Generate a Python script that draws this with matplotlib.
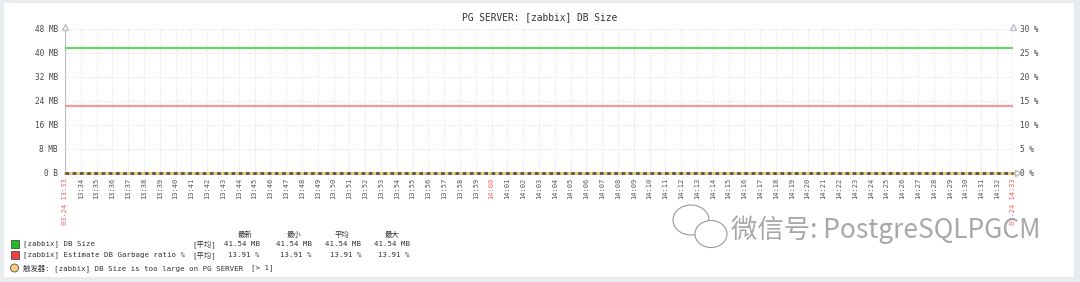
import numpy as np
import matplotlib.pyplot as plt
from matplotlib.patches import Rectangle, Ellipse

# time axis: one point per minute 13:33 .. 14:33
minutes = ['13:%02d' % m for m in range(33, 60)] + ['14:%02d' % m for m in range(0, 34)]
db_size_mb = [41.54] * len(minutes)
garbage_pct = [13.91] * len(minutes)
trigger_mb = [0.0] * len(minutes)

left_ticks = [0, 8, 16, 24, 32, 40, 48]
left_labels = ['0 B', '8 MB', '16 MB', '24 MB', '32 MB', '40 MB', '48 MB']
right_ticks = [0, 5, 10, 15, 20, 25, 30]

legend_head = ['最新', '最小', '平均', '最大']
db_stats = ['41.54 MB', '41.54 MB', '41.54 MB', '41.54 MB']
gb_stats = ['13.91 %', '13.91 %', '13.91 %', '13.91 %']

W, H = 1080, 282
mono = ['DejaVu Sans Mono', 'Noto Sans CJK SC']
plt.rcParams['font.family'] = mono

fig = plt.figure(figsize=(W / 100, H / 100), dpi=100)
fig.patch.set_facecolor('#e9ecef')
fig.patches.append(Rectangle((4 / W, 1 - 277 / H), 1070 / W, 274 / H, transform=fig.transFigure,
                             facecolor='white', edgecolor='none', zorder=-5))

x0, x1, yt, yb = 65, 1013, 29, 173
ax = fig.add_axes([x0 / W, 1 - yb / H, (x1 - x0) / W, (yb - yt) / H])
ax.set_facecolor('none')
x = np.arange(len(minutes))
ax.set_xlim(0, len(minutes) - 1)
ax.set_ylim(0, 48)

# grid
for xi in x[1:-1]:
    ax.axvline(xi, color='#cfd3d8', lw=0.6, ls=(0, (1, 2)), zorder=1)
for yv in left_ticks[1:]:
    ax.axhline(yv, color='#cfd3d8', lw=0.6, ls=(0, (1, 2)), zorder=1)

ax.plot(x, db_size_mb, color='#3cd63c', lw=1.2, zorder=3)
ax2 = ax.twinx()
ax2.set_ylim(0, 30)
ax2.plot(x, garbage_pct, color='#f59a9a', lw=1.6, zorder=3)
ax.plot(x, trigger_mb, color='#f2c46a', lw=2.0, zorder=4, clip_on=False)
ax.plot(x, trigger_mb, color='#555555', lw=2.0, ls=(0, (1.3, 1.3)), zorder=5, clip_on=False)

for a in (ax, ax2):
    for s in a.spines.values():
        s.set_visible(False)
    a.set_xticks([])
    a.set_yticks([])

axc = '#b8bec6'
ax.axvline(0, color=axc, lw=0.9, zorder=2)
ax.axvline(len(minutes) - 1, color=axc, lw=0.9, zorder=2)
ax.axhline(0, color=axc, lw=0.9, zorder=2)
ax.plot([0, len(minutes) - 1], [48.6, 48.6], ls='none', marker='^', ms=4, mfc='white', mec=axc,
        clip_on=False, zorder=6)
ax.plot([len(minutes) - 0.7], [0], ls='none', marker='>', ms=4, mfc='white', mec=axc, clip_on=False, zorder=6)

# y tick labels
for v, lab in zip(left_ticks, left_labels):
    ax.text(-0.45, v, lab, ha='right', va='center', fontsize=5.6, color='#444444')
for v in right_ticks:
    ax2.text(len(minutes) - 1 + 0.45, v, '%d %%' % v, ha='left', va='center', fontsize=5.6, color='#444444')

# x tick labels
for i, m in enumerate(minutes):
    red = i in (0, len(minutes) - 1) or m == '14:00'
    lab = m
    if i in (0, len(minutes) - 1):
        lab = '03-24 ' + m
    ax.text(i, -1.6, lab, rotation=90, ha='center', va='top', fontsize=5.0,
            color='#f06060' if red else '#555555')

fig.text(540 / W, 1 - 17 / H, 'PG SERVER: [zabbix] DB Size', ha='center', va='center',
         fontsize=6.9, color='#333333')

# legend
def fx(px):
    return px / W

def fy(py):
    return 1 - py / H

fs = 5.3
for c, h in zip([245, 294, 342, 392], legend_head):
    fig.text(fx(c), fy(234), h, ha='center', va='center', fontsize=fs, color='#333333')
cols = [260, 312, 361, 410]
rows = [(244, '#22bb22', '[zabbix] DB Size', db_stats),
        (255, '#ee4444', '[zabbix] Estimate DB Garbage ratio %', gb_stats)]
for py, col, name, stats in rows:
    fig.patches.append(Rectangle((fx(11), fy(py + 4)), 8 / W, 8 / H, transform=fig.transFigure,
                                 facecolor=col, edgecolor='#333333', lw=0.5))
    fig.text(fx(23), fy(py), name, ha='left', va='center', fontsize=fs, color='#333333')
    fig.text(fx(192), fy(py), '[平均]', ha='left', va='center', fontsize=fs, color='#333333')
    for c, s in zip(cols, stats):
        fig.text(fx(c), fy(py), s, ha='right', va='center', fontsize=fs, color='#333333')

fig.patches.append(Ellipse((fx(14.5), fy(268)), 8 / W, 8 / H, transform=fig.transFigure,
                           facecolor='#f6cf7a', edgecolor='#555555', lw=0.6))
fig.text(fx(23), fy(268), '触发器: [zabbix] DB Size is too large on PG SERVER',
         ha='left', va='center', fontsize=fs, color='#333333')
fig.text(fx(251), fy(268), '[> 1]', ha='left', va='center', fontsize=fs, color='#333333')

# watermark
for cx, cy, w, h in [(691, 220, 36, 30), (711, 234, 32, 27)]:
    fig.patches.append(Ellipse((fx(cx), fy(cy)), w / W, h / H, transform=fig.transFigure,
                               facecolor='white', edgecolor='#9a9a9a', lw=0.8))
fig.text(fx(731), fy(230), '微信号: PostgreSQLPGCM', ha='left', va='center', fontsize=19,
         color='#a8a8a8', fontweight='light', family=['Noto Sans CJK SC', 'DejaVu Sans'])

fig.savefig('out.png', dpi=100, facecolor=fig.get_facecolor())
